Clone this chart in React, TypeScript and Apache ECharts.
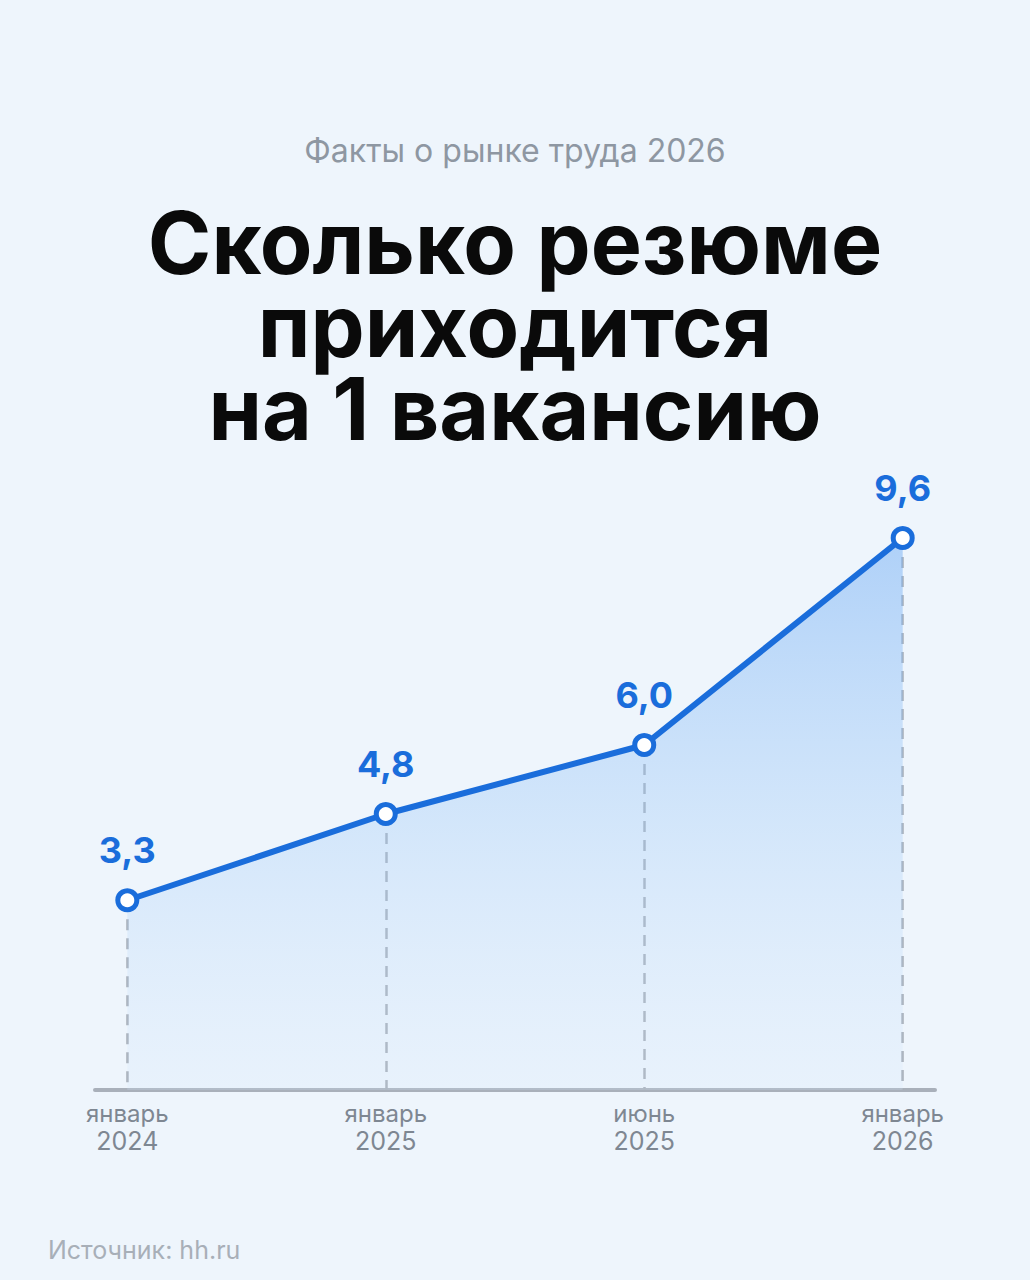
import React, { useEffect, useRef } from 'react';
import * as echarts from 'echarts';

const months = ['январь', 'январь', 'июнь', 'январь'];
const years = ['2024', '2025', '2025', '2026'];
const values = [3.3, 4.8, 6.0, 9.6];

const kicker = 'Факты о рынке труда 2026';
const headline = ['Сколько резюме', 'приходится', 'на 1 вакансию'];
const source = 'Источник: hh.ru';

const BLUE = '#1a6ddb';
const FONT = 'Inter, "Noto Sans", sans-serif';

export default function App() {
  const elRef = useRef<HTMLDivElement>(null);

  useEffect(() => {
    document.body.style.margin = '0';
    if (!elRef.current) return;
    const chart = echarts.init(elRef.current, null, { renderer: 'svg' });

    const points = values.map((v, i) => [i, v]);

    chart.setOption({
      animation: false,
      backgroundColor: '#eef5fc',
      grid: { left: 95, right: 95, top: 515, bottom: 190 },
      xAxis: {
        type: 'value',
        min: -0.125,
        max: 3.125,
        splitLine: { show: false },
        axisTick: { show: false },
        axisLine: {
          show: true,
          lineStyle: { color: '#a9b0ba', width: 4, cap: 'round' },
        },
        axisLabel: {
          customValues: values.map((_, i) => i),
          margin: 10,
          formatter: (v: number) => {
            const i = Math.round(v);
            return `{m|${months[i]}}\n{y|${years[i]}}`;
          },
          rich: {
            m: { fontFamily: FONT, fontSize: 24, color: '#7e8792', lineHeight: 27 },
            y: { fontFamily: FONT, fontSize: 25, color: '#7e8792', lineHeight: 28 },
          },
        },
      },
      yAxis: {
        type: 'value',
        min: 0,
        max: 10,
        show: false,
      },
      series: [
        {
          type: 'line',
          z: 1,
          data: points,
          symbol: 'none',
          lineStyle: { width: 0 },
          silent: true,
          markLine: {
            silent: true,
            symbol: 'none',
            z: 1,
            label: { show: false },
            lineStyle: { color: '#a6adb6', width: 2.5, type: [11, 8] },
            data: points.map(([x, y]) => [{ coord: [x, y] }, { coord: [x, 0] }]),
          },
        },
        {
          type: 'line',
          z: 3,
          data: points,
          symbol: 'circle',
          symbolSize: 19,
          itemStyle: { color: '#ffffff', borderColor: BLUE, borderWidth: 5 },
          lineStyle: { color: BLUE, width: 6 },
          areaStyle: {
            color: new echarts.graphic.LinearGradient(0, 0, 0, 1, [
              { offset: 0, color: 'rgba(125, 180, 245, 0.8)' },
              { offset: 0.5, color: 'rgba(165, 205, 248, 0.55)' },
              { offset: 1, color: 'rgba(210, 230, 252, 0.3)' },
            ]),
          },
          label: {
            show: true,
            position: 'top',
            distance: 20,
            fontFamily: FONT,
            fontSize: 36,
            fontWeight: 'bold',
            color: BLUE,
            formatter: (p: any) => p.value[1].toFixed(1).replace('.', ','),
          },
        },
      ],
      graphic: [
        {
          type: 'text',
          x: 515,
          y: 150,
          style: {
            text: kicker,
            fontFamily: FONT,
            fontSize: 32,
            fill: '#8e97a2',
            textAlign: 'center',
            textVerticalAlign: 'middle',
          },
        },
        ...headline.map((line, i) => ({
          type: 'text',
          x: 515,
          y: 243 + i * 83,
          style: {
            text: line,
            fontFamily: FONT,
            fontSize: 86,
            fontWeight: 'bold',
            fill: '#0a0a0a',
            textAlign: 'center',
            textVerticalAlign: 'middle',
          },
        })),
        {
          type: 'text',
          x: 48,
          y: 1250,
          style: {
            text: source,
            fontFamily: FONT,
            fontSize: 25,
            fill: '#a8afb8',
            textAlign: 'left',
            textVerticalAlign: 'middle',
          },
        },
      ],
    });

    return () => chart.dispose();
  }, []);

  return <div ref={elRef} style={{ width: 1030, height: 1280 }} />;
}
